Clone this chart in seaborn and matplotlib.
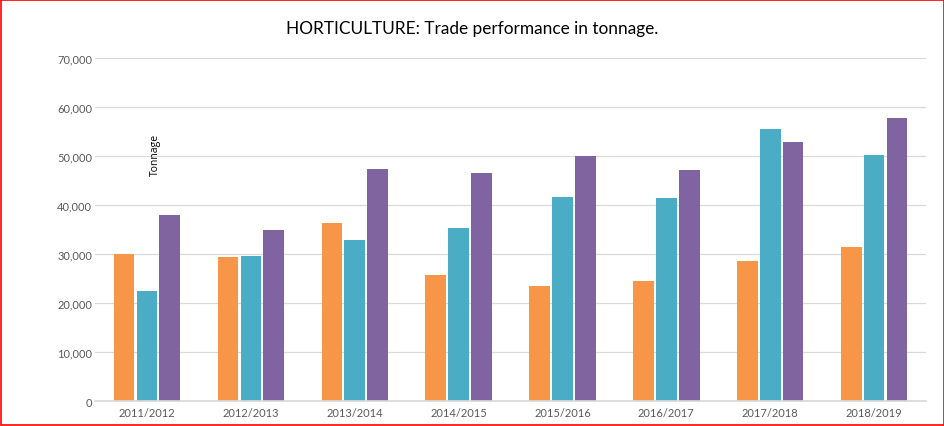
import matplotlib
matplotlib.use("Agg")
import matplotlib.pyplot as plt
import seaborn as sns
import pandas as pd
from matplotlib.patches import Rectangle

seasons = ["2011/2012", "2012/2013", "2013/2014", "2014/2015",
           "2015/2016", "2016/2017", "2017/2018", "2018/2019"]
series_names = ["Series 1", "Series 2", "Series 3"]
series1 = [30000, 29400, 36400, 25700, 23500, 24400, 28600, 31500]
series2 = [22400, 29600, 32800, 35400, 41700, 41400, 55400, 50200]
series3 = [38000, 34900, 47400, 46600, 49900, 47200, 52900, 57700]
colors = ["#F79646", "#4BACC6", "#8064A2"]

rows = []
for name, vals in zip(series_names, [series1, series2, series3]):
    for s, v in zip(seasons, vals):
        rows.append({"Season": s, "Series": name, "Tonnage": v})
df = pd.DataFrame(rows)

sns.set_theme(style="white")
plt.rcParams['font.family'] = ['Lato', 'DejaVu Sans']

fig = plt.figure(figsize=(9.45, 4.27), dpi=100)
ax = fig.add_axes([0.1005, 0.0585, 0.8795, 0.8035])

sns.barplot(data=df, x="Season", y="Tonnage", hue="Series",
            palette=colors, width=0.66, gap=0.1, ax=ax,
            order=seasons, hue_order=series_names, legend=False,
            saturation=1, linewidth=0)

ax.set_ylim(0, 70000)
ax.set_yticks(range(0, 70001, 10000))
ax.set_yticklabels([f"{v:,}" for v in range(0, 70001, 10000)],
                   fontsize=8, color="#595959")
ax.tick_params(axis="x", labelsize=8, labelcolor="#595959", length=0, pad=4)
ax.tick_params(axis="y", length=0, pad=2)
ax.yaxis.grid(True, color="#D9D9D9", linewidth=0.9)
ax.set_axisbelow(True)
ax.set_xlabel("")
ax.set_ylabel("")
for side in ["top", "right", "left"]:
    ax.spines[side].set_visible(False)
ax.spines["bottom"].set_color("#D9D9D9")
ax.set_xlim(-0.5, 7.5)

fig.text(0.5, 0.933, "HORTICULTURE: Trade performance in tonnage.",
         ha="center", va="center", fontsize=12.4, color="black")
fig.text(0.164, 0.637, "Tonnage", rotation=90, ha="center", va="center",
         fontsize=7.5, color="black", family=["Open Sans", "DejaVu Sans"])

fig.patches.append(Rectangle((0.0015, 0.002), 0.997, 0.996, transform=fig.transFigure,
                             fill=False, edgecolor="red", linewidth=1.2))

fig.savefig("out.png", dpi=100)
